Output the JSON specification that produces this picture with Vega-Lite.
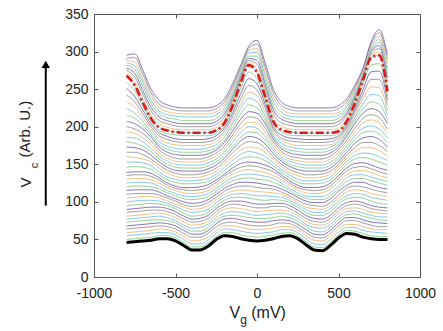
{
"$schema":"https://vega.github.io/schema/vega-lite/v6.json",
"width":326,"height":263,
"autosize":{"type":"none"},
"padding":{"left":94,"top":14,"right":23,"bottom":54},
"background":"white",
"config":{"font":"Liberation Sans","view":{"stroke":null},
"axis":{"grid":false,"labelFont":"Liberation Sans","titleFont":"Liberation Sans","labelColor":"#222","titleColor":"#222","domainColor":"#555","tickColor":"#555","titleFontWeight":"normal"}},
"data":{"values":[
{"s":0,"x":-800,"y":46},{"s":0,"x":-750,"y":47},{"s":0,"x":-700,"y":48},{"s":0,"x":-650,"y":49},{"s":0,"x":-600,"y":51},{"s":0,"x":-550,"y":51},{"s":0,"x":-500,"y":48},{"s":0,"x":-450,"y":42},{"s":0,"x":-400,"y":36},{"s":0,"x":-350,"y":36},{"s":0,"x":-300,"y":41},{"s":0,"x":-250,"y":50},{"s":0,"x":-200,"y":55},{"s":0,"x":-150,"y":54},{"s":0,"x":-100,"y":51},{"s":0,"x":-50,"y":49},{"s":0,"x":0,"y":48},{"s":0,"x":50,"y":49},{"s":0,"x":100,"y":51},{"s":0,"x":150,"y":54},{"s":0,"x":200,"y":55},{"s":0,"x":250,"y":51},{"s":0,"x":300,"y":43},{"s":0,"x":350,"y":36},{"s":0,"x":400,"y":35},{"s":0,"x":450,"y":42},{"s":0,"x":500,"y":52},{"s":0,"x":550,"y":58},{"s":0,"x":600,"y":57},{"s":0,"x":650,"y":53},{"s":0,"x":700,"y":51},{"s":0,"x":750,"y":50},{"s":0,"x":800,"y":50},
{"s":1,"x":-800,"y":50},{"s":1,"x":-750,"y":51},{"s":1,"x":-700,"y":52},{"s":1,"x":-650,"y":53},{"s":1,"x":-600,"y":55},{"s":1,"x":-550,"y":55},{"s":1,"x":-500,"y":52},{"s":1,"x":-450,"y":46},{"s":1,"x":-400,"y":40},{"s":1,"x":-350,"y":40},{"s":1,"x":-300,"y":45},{"s":1,"x":-250,"y":54},{"s":1,"x":-200,"y":59},{"s":1,"x":-150,"y":59},{"s":1,"x":-100,"y":56},{"s":1,"x":-50,"y":54},{"s":1,"x":0,"y":53},{"s":1,"x":50,"y":54},{"s":1,"x":100,"y":56},{"s":1,"x":150,"y":58},{"s":1,"x":200,"y":59},{"s":1,"x":250,"y":55},{"s":1,"x":300,"y":47},{"s":1,"x":350,"y":40},{"s":1,"x":400,"y":39},{"s":1,"x":450,"y":46},{"s":1,"x":500,"y":56},{"s":1,"x":550,"y":62},{"s":1,"x":600,"y":61},{"s":1,"x":650,"y":58},{"s":1,"x":700,"y":55},{"s":1,"x":750,"y":54},{"s":1,"x":800,"y":54},
{"s":2,"x":-800,"y":55},{"s":2,"x":-750,"y":56},{"s":2,"x":-700,"y":57},{"s":2,"x":-650,"y":58},{"s":2,"x":-600,"y":59},{"s":2,"x":-550,"y":59},{"s":2,"x":-500,"y":56},{"s":2,"x":-450,"y":50},{"s":2,"x":-400,"y":44},{"s":2,"x":-350,"y":44},{"s":2,"x":-300,"y":49},{"s":2,"x":-250,"y":58},{"s":2,"x":-200,"y":64},{"s":2,"x":-150,"y":63},{"s":2,"x":-100,"y":61},{"s":2,"x":-50,"y":59},{"s":2,"x":0,"y":58},{"s":2,"x":50,"y":59},{"s":2,"x":100,"y":60},{"s":2,"x":150,"y":63},{"s":2,"x":200,"y":63},{"s":2,"x":250,"y":59},{"s":2,"x":300,"y":51},{"s":2,"x":350,"y":44},{"s":2,"x":400,"y":43},{"s":2,"x":450,"y":50},{"s":2,"x":500,"y":60},{"s":2,"x":550,"y":66},{"s":2,"x":600,"y":66},{"s":2,"x":650,"y":62},{"s":2,"x":700,"y":60},{"s":2,"x":750,"y":59},{"s":2,"x":800,"y":58},
{"s":3,"x":-800,"y":59},{"s":3,"x":-750,"y":60},{"s":3,"x":-700,"y":61},{"s":3,"x":-650,"y":62},{"s":3,"x":-600,"y":64},{"s":3,"x":-550,"y":63},{"s":3,"x":-500,"y":60},{"s":3,"x":-450,"y":54},{"s":3,"x":-400,"y":48},{"s":3,"x":-350,"y":49},{"s":3,"x":-300,"y":53},{"s":3,"x":-250,"y":62},{"s":3,"x":-200,"y":68},{"s":3,"x":-150,"y":68},{"s":3,"x":-100,"y":66},{"s":3,"x":-50,"y":64},{"s":3,"x":0,"y":63},{"s":3,"x":50,"y":64},{"s":3,"x":100,"y":65},{"s":3,"x":150,"y":67},{"s":3,"x":200,"y":67},{"s":3,"x":250,"y":63},{"s":3,"x":300,"y":55},{"s":3,"x":350,"y":49},{"s":3,"x":400,"y":48},{"s":3,"x":450,"y":54},{"s":3,"x":500,"y":64},{"s":3,"x":550,"y":70},{"s":3,"x":600,"y":70},{"s":3,"x":650,"y":67},{"s":3,"x":700,"y":64},{"s":3,"x":750,"y":63},{"s":3,"x":800,"y":63},
{"s":4,"x":-800,"y":64},{"s":4,"x":-750,"y":65},{"s":4,"x":-700,"y":66},{"s":4,"x":-650,"y":67},{"s":4,"x":-600,"y":68},{"s":4,"x":-550,"y":67},{"s":4,"x":-500,"y":64},{"s":4,"x":-450,"y":58},{"s":4,"x":-400,"y":53},{"s":4,"x":-350,"y":53},{"s":4,"x":-300,"y":58},{"s":4,"x":-250,"y":67},{"s":4,"x":-200,"y":72},{"s":4,"x":-150,"y":73},{"s":4,"x":-100,"y":71},{"s":4,"x":-50,"y":69},{"s":4,"x":0,"y":68},{"s":4,"x":50,"y":68},{"s":4,"x":100,"y":70},{"s":4,"x":150,"y":72},{"s":4,"x":200,"y":71},{"s":4,"x":250,"y":66},{"s":4,"x":300,"y":59},{"s":4,"x":350,"y":53},{"s":4,"x":400,"y":52},{"s":4,"x":450,"y":58},{"s":4,"x":500,"y":68},{"s":4,"x":550,"y":75},{"s":4,"x":600,"y":75},{"s":4,"x":650,"y":72},{"s":4,"x":700,"y":69},{"s":4,"x":750,"y":67},{"s":4,"x":800,"y":67},
{"s":5,"x":-800,"y":68},{"s":5,"x":-750,"y":69},{"s":5,"x":-700,"y":70},{"s":5,"x":-650,"y":71},{"s":5,"x":-600,"y":72},{"s":5,"x":-550,"y":71},{"s":5,"x":-500,"y":68},{"s":5,"x":-450,"y":62},{"s":5,"x":-400,"y":57},{"s":5,"x":-350,"y":57},{"s":5,"x":-300,"y":62},{"s":5,"x":-250,"y":71},{"s":5,"x":-200,"y":77},{"s":5,"x":-150,"y":78},{"s":5,"x":-100,"y":76},{"s":5,"x":-50,"y":74},{"s":5,"x":0,"y":73},{"s":5,"x":50,"y":73},{"s":5,"x":100,"y":75},{"s":5,"x":150,"y":76},{"s":5,"x":200,"y":75},{"s":5,"x":250,"y":70},{"s":5,"x":300,"y":63},{"s":5,"x":350,"y":57},{"s":5,"x":400,"y":56},{"s":5,"x":450,"y":62},{"s":5,"x":500,"y":72},{"s":5,"x":550,"y":79},{"s":5,"x":600,"y":79},{"s":5,"x":650,"y":76},{"s":5,"x":700,"y":73},{"s":5,"x":750,"y":72},{"s":5,"x":800,"y":71},
{"s":6,"x":-800,"y":73},{"s":6,"x":-750,"y":74},{"s":6,"x":-700,"y":75},{"s":6,"x":-650,"y":76},{"s":6,"x":-600,"y":76},{"s":6,"x":-550,"y":75},{"s":6,"x":-500,"y":72},{"s":6,"x":-450,"y":66},{"s":6,"x":-400,"y":61},{"s":6,"x":-350,"y":61},{"s":6,"x":-300,"y":66},{"s":6,"x":-250,"y":75},{"s":6,"x":-200,"y":81},{"s":6,"x":-150,"y":82},{"s":6,"x":-100,"y":81},{"s":6,"x":-50,"y":79},{"s":6,"x":0,"y":78},{"s":6,"x":50,"y":78},{"s":6,"x":100,"y":79},{"s":6,"x":150,"y":81},{"s":6,"x":200,"y":79},{"s":6,"x":250,"y":74},{"s":6,"x":300,"y":67},{"s":6,"x":350,"y":61},{"s":6,"x":400,"y":60},{"s":6,"x":450,"y":66},{"s":6,"x":500,"y":76},{"s":6,"x":550,"y":83},{"s":6,"x":600,"y":84},{"s":6,"x":650,"y":81},{"s":6,"x":700,"y":78},{"s":6,"x":750,"y":76},{"s":6,"x":800,"y":75},
{"s":7,"x":-800,"y":77},{"s":7,"x":-750,"y":78},{"s":7,"x":-700,"y":79},{"s":7,"x":-650,"y":80},{"s":7,"x":-600,"y":81},{"s":7,"x":-550,"y":79},{"s":7,"x":-500,"y":75},{"s":7,"x":-450,"y":69},{"s":7,"x":-400,"y":65},{"s":7,"x":-350,"y":66},{"s":7,"x":-300,"y":70},{"s":7,"x":-250,"y":79},{"s":7,"x":-200,"y":85},{"s":7,"x":-150,"y":87},{"s":7,"x":-100,"y":86},{"s":7,"x":-50,"y":84},{"s":7,"x":0,"y":82},{"s":7,"x":50,"y":83},{"s":7,"x":100,"y":84},{"s":7,"x":150,"y":85},{"s":7,"x":200,"y":83},{"s":7,"x":250,"y":78},{"s":7,"x":300,"y":70},{"s":7,"x":350,"y":66},{"s":7,"x":400,"y":65},{"s":7,"x":450,"y":70},{"s":7,"x":500,"y":80},{"s":7,"x":550,"y":87},{"s":7,"x":600,"y":88},{"s":7,"x":650,"y":85},{"s":7,"x":700,"y":82},{"s":7,"x":750,"y":80},{"s":7,"x":800,"y":80},
{"s":8,"x":-800,"y":81},{"s":8,"x":-750,"y":82},{"s":8,"x":-700,"y":83},{"s":8,"x":-650,"y":84},{"s":8,"x":-600,"y":85},{"s":8,"x":-550,"y":83},{"s":8,"x":-500,"y":79},{"s":8,"x":-450,"y":73},{"s":8,"x":-400,"y":69},{"s":8,"x":-350,"y":70},{"s":8,"x":-300,"y":74},{"s":8,"x":-250,"y":83},{"s":8,"x":-200,"y":90},{"s":8,"x":-150,"y":92},{"s":8,"x":-100,"y":91},{"s":8,"x":-50,"y":89},{"s":8,"x":0,"y":87},{"s":8,"x":50,"y":88},{"s":8,"x":100,"y":89},{"s":8,"x":150,"y":89},{"s":8,"x":200,"y":87},{"s":8,"x":250,"y":82},{"s":8,"x":300,"y":74},{"s":8,"x":350,"y":70},{"s":8,"x":400,"y":69},{"s":8,"x":450,"y":74},{"s":8,"x":500,"y":84},{"s":8,"x":550,"y":91},{"s":8,"x":600,"y":92},{"s":8,"x":650,"y":90},{"s":8,"x":700,"y":86},{"s":8,"x":750,"y":85},{"s":8,"x":800,"y":84},
{"s":9,"x":-800,"y":86},{"s":9,"x":-750,"y":87},{"s":9,"x":-700,"y":88},{"s":9,"x":-650,"y":89},{"s":9,"x":-600,"y":89},{"s":9,"x":-550,"y":87},{"s":9,"x":-500,"y":83},{"s":9,"x":-450,"y":77},{"s":9,"x":-400,"y":73},{"s":9,"x":-350,"y":74},{"s":9,"x":-300,"y":78},{"s":9,"x":-250,"y":87},{"s":9,"x":-200,"y":94},{"s":9,"x":-150,"y":97},{"s":9,"x":-100,"y":96},{"s":9,"x":-50,"y":94},{"s":9,"x":0,"y":92},{"s":9,"x":50,"y":92},{"s":9,"x":100,"y":94},{"s":9,"x":150,"y":94},{"s":9,"x":200,"y":91},{"s":9,"x":250,"y":85},{"s":9,"x":300,"y":78},{"s":9,"x":350,"y":74},{"s":9,"x":400,"y":73},{"s":9,"x":450,"y":78},{"s":9,"x":500,"y":88},{"s":9,"x":550,"y":95},{"s":9,"x":600,"y":97},{"s":9,"x":650,"y":95},{"s":9,"x":700,"y":91},{"s":9,"x":750,"y":89},{"s":9,"x":800,"y":88},
{"s":10,"x":-800,"y":90},{"s":10,"x":-750,"y":91},{"s":10,"x":-700,"y":92},{"s":10,"x":-650,"y":93},{"s":10,"x":-600,"y":93},{"s":10,"x":-550,"y":91},{"s":10,"x":-500,"y":87},{"s":10,"x":-450,"y":81},{"s":10,"x":-400,"y":77},{"s":10,"x":-350,"y":78},{"s":10,"x":-300,"y":82},{"s":10,"x":-250,"y":91},{"s":10,"x":-200,"y":98},{"s":10,"x":-150,"y":101},{"s":10,"x":-100,"y":101},{"s":10,"x":-50,"y":99},{"s":10,"x":0,"y":97},{"s":10,"x":50,"y":97},{"s":10,"x":100,"y":98},{"s":10,"x":150,"y":98},{"s":10,"x":200,"y":95},{"s":10,"x":250,"y":89},{"s":10,"x":300,"y":82},{"s":10,"x":350,"y":78},{"s":10,"x":400,"y":77},{"s":10,"x":450,"y":82},{"s":10,"x":500,"y":92},{"s":10,"x":550,"y":99},{"s":10,"x":600,"y":101},{"s":10,"x":650,"y":99},{"s":10,"x":700,"y":95},{"s":10,"x":750,"y":93},{"s":10,"x":800,"y":92},
{"s":11,"x":-800,"y":95},{"s":11,"x":-750,"y":96},{"s":11,"x":-700,"y":97},{"s":11,"x":-650,"y":98},{"s":11,"x":-600,"y":97},{"s":11,"x":-550,"y":95},{"s":11,"x":-500,"y":91},{"s":11,"x":-450,"y":85},{"s":11,"x":-400,"y":81},{"s":11,"x":-350,"y":82},{"s":11,"x":-300,"y":86},{"s":11,"x":-250,"y":95},{"s":11,"x":-200,"y":102},{"s":11,"x":-150,"y":106},{"s":11,"x":-100,"y":106},{"s":11,"x":-50,"y":105},{"s":11,"x":0,"y":103},{"s":11,"x":50,"y":102},{"s":11,"x":100,"y":103},{"s":11,"x":150,"y":102},{"s":11,"x":200,"y":99},{"s":11,"x":250,"y":93},{"s":11,"x":300,"y":86},{"s":11,"x":350,"y":82},{"s":11,"x":400,"y":82},{"s":11,"x":450,"y":87},{"s":11,"x":500,"y":97},{"s":11,"x":550,"y":104},{"s":11,"x":600,"y":106},{"s":11,"x":650,"y":105},{"s":11,"x":700,"y":101},{"s":11,"x":750,"y":98},{"s":11,"x":800,"y":97},
{"s":12,"x":-800,"y":100},{"s":12,"x":-750,"y":101},{"s":12,"x":-700,"y":102},{"s":12,"x":-650,"y":102},{"s":12,"x":-600,"y":101},{"s":12,"x":-550,"y":98},{"s":12,"x":-500,"y":94},{"s":12,"x":-450,"y":89},{"s":12,"x":-400,"y":86},{"s":12,"x":-350,"y":87},{"s":12,"x":-300,"y":90},{"s":12,"x":-250,"y":99},{"s":12,"x":-200,"y":106},{"s":12,"x":-150,"y":110},{"s":12,"x":-100,"y":111},{"s":12,"x":-50,"y":110},{"s":12,"x":0,"y":108},{"s":12,"x":50,"y":108},{"s":12,"x":100,"y":107},{"s":12,"x":150,"y":106},{"s":12,"x":200,"y":102},{"s":12,"x":250,"y":96},{"s":12,"x":300,"y":90},{"s":12,"x":350,"y":86},{"s":12,"x":400,"y":86},{"s":12,"x":450,"y":91},{"s":12,"x":500,"y":101},{"s":12,"x":550,"y":108},{"s":12,"x":600,"y":111},{"s":12,"x":650,"y":110},{"s":12,"x":700,"y":106},{"s":12,"x":750,"y":104},{"s":12,"x":800,"y":102},
{"s":13,"x":-800,"y":105},{"s":13,"x":-750,"y":106},{"s":13,"x":-700,"y":107},{"s":13,"x":-650,"y":107},{"s":13,"x":-600,"y":105},{"s":13,"x":-550,"y":101},{"s":13,"x":-500,"y":97},{"s":13,"x":-450,"y":93},{"s":13,"x":-400,"y":90},{"s":13,"x":-350,"y":91},{"s":13,"x":-300,"y":95},{"s":13,"x":-250,"y":103},{"s":13,"x":-200,"y":110},{"s":13,"x":-150,"y":114},{"s":13,"x":-100,"y":116},{"s":13,"x":-50,"y":115},{"s":13,"x":0,"y":114},{"s":13,"x":50,"y":113},{"s":13,"x":100,"y":112},{"s":13,"x":150,"y":110},{"s":13,"x":200,"y":105},{"s":13,"x":250,"y":99},{"s":13,"x":300,"y":93},{"s":13,"x":350,"y":91},{"s":13,"x":400,"y":90},{"s":13,"x":450,"y":95},{"s":13,"x":500,"y":105},{"s":13,"x":550,"y":113},{"s":13,"x":600,"y":116},{"s":13,"x":650,"y":115},{"s":13,"x":700,"y":111},{"s":13,"x":750,"y":109},{"s":13,"x":800,"y":107},
{"s":14,"x":-800,"y":110},{"s":14,"x":-750,"y":111},{"s":14,"x":-700,"y":111},{"s":14,"x":-650,"y":111},{"s":14,"x":-600,"y":109},{"s":14,"x":-550,"y":105},{"s":14,"x":-500,"y":101},{"s":14,"x":-450,"y":96},{"s":14,"x":-400,"y":94},{"s":14,"x":-350,"y":95},{"s":14,"x":-300,"y":99},{"s":14,"x":-250,"y":106},{"s":14,"x":-200,"y":114},{"s":14,"x":-150,"y":119},{"s":14,"x":-100,"y":121},{"s":14,"x":-50,"y":121},{"s":14,"x":0,"y":119},{"s":14,"x":50,"y":118},{"s":14,"x":100,"y":117},{"s":14,"x":150,"y":113},{"s":14,"x":200,"y":108},{"s":14,"x":250,"y":102},{"s":14,"x":300,"y":97},{"s":14,"x":350,"y":95},{"s":14,"x":400,"y":94},{"s":14,"x":450,"y":99},{"s":14,"x":500,"y":109},{"s":14,"x":550,"y":118},{"s":14,"x":600,"y":121},{"s":14,"x":650,"y":120},{"s":14,"x":700,"y":117},{"s":14,"x":750,"y":114},{"s":14,"x":800,"y":112},
{"s":15,"x":-800,"y":115},{"s":15,"x":-750,"y":116},{"s":15,"x":-700,"y":116},{"s":15,"x":-650,"y":116},{"s":15,"x":-600,"y":113},{"s":15,"x":-550,"y":108},{"s":15,"x":-500,"y":104},{"s":15,"x":-450,"y":100},{"s":15,"x":-400,"y":98},{"s":15,"x":-350,"y":99},{"s":15,"x":-300,"y":103},{"s":15,"x":-250,"y":110},{"s":15,"x":-200,"y":118},{"s":15,"x":-150,"y":123},{"s":15,"x":-100,"y":126},{"s":15,"x":-50,"y":126},{"s":15,"x":0,"y":125},{"s":15,"x":50,"y":123},{"s":15,"x":100,"y":121},{"s":15,"x":150,"y":117},{"s":15,"x":200,"y":112},{"s":15,"x":250,"y":106},{"s":15,"x":300,"y":101},{"s":15,"x":350,"y":99},{"s":15,"x":400,"y":99},{"s":15,"x":450,"y":104},{"s":15,"x":500,"y":114},{"s":15,"x":550,"y":122},{"s":15,"x":600,"y":126},{"s":15,"x":650,"y":126},{"s":15,"x":700,"y":122},{"s":15,"x":750,"y":119},{"s":15,"x":800,"y":117},
{"s":16,"x":-800,"y":120},{"s":16,"x":-750,"y":121},{"s":16,"x":-700,"y":121},{"s":16,"x":-650,"y":120},{"s":16,"x":-600,"y":117},{"s":16,"x":-550,"y":112},{"s":16,"x":-500,"y":108},{"s":16,"x":-450,"y":104},{"s":16,"x":-400,"y":103},{"s":16,"x":-350,"y":104},{"s":16,"x":-300,"y":107},{"s":16,"x":-250,"y":114},{"s":16,"x":-200,"y":122},{"s":16,"x":-150,"y":128},{"s":16,"x":-100,"y":131},{"s":16,"x":-50,"y":132},{"s":16,"x":0,"y":130},{"s":16,"x":50,"y":129},{"s":16,"x":100,"y":126},{"s":16,"x":150,"y":121},{"s":16,"x":200,"y":115},{"s":16,"x":250,"y":109},{"s":16,"x":300,"y":105},{"s":16,"x":350,"y":103},{"s":16,"x":400,"y":103},{"s":16,"x":450,"y":108},{"s":16,"x":500,"y":118},{"s":16,"x":550,"y":127},{"s":16,"x":600,"y":131},{"s":16,"x":650,"y":131},{"s":16,"x":700,"y":128},{"s":16,"x":750,"y":125},{"s":16,"x":800,"y":122},
{"s":17,"x":-800,"y":125},{"s":17,"x":-750,"y":126},{"s":17,"x":-700,"y":126},{"s":17,"x":-650,"y":125},{"s":17,"x":-600,"y":121},{"s":17,"x":-550,"y":115},{"s":17,"x":-500,"y":111},{"s":17,"x":-450,"y":108},{"s":17,"x":-400,"y":107},{"s":17,"x":-350,"y":108},{"s":17,"x":-300,"y":111},{"s":17,"x":-250,"y":118},{"s":17,"x":-200,"y":126},{"s":17,"x":-150,"y":132},{"s":17,"x":-100,"y":136},{"s":17,"x":-50,"y":137},{"s":17,"x":0,"y":136},{"s":17,"x":50,"y":134},{"s":17,"x":100,"y":131},{"s":17,"x":150,"y":125},{"s":17,"x":200,"y":118},{"s":17,"x":250,"y":112},{"s":17,"x":300,"y":108},{"s":17,"x":350,"y":107},{"s":17,"x":400,"y":107},{"s":17,"x":450,"y":112},{"s":17,"x":500,"y":122},{"s":17,"x":550,"y":132},{"s":17,"x":600,"y":136},{"s":17,"x":650,"y":136},{"s":17,"x":700,"y":133},{"s":17,"x":750,"y":130},{"s":17,"x":800,"y":127},
{"s":18,"x":-800,"y":130},{"s":18,"x":-750,"y":131},{"s":18,"x":-700,"y":131},{"s":18,"x":-650,"y":129},{"s":18,"x":-600,"y":125},{"s":18,"x":-550,"y":119},{"s":18,"x":-500,"y":115},{"s":18,"x":-450,"y":112},{"s":18,"x":-400,"y":111},{"s":18,"x":-350,"y":112},{"s":18,"x":-300,"y":115},{"s":18,"x":-250,"y":122},{"s":18,"x":-200,"y":130},{"s":18,"x":-150,"y":137},{"s":18,"x":-100,"y":141},{"s":18,"x":-50,"y":143},{"s":18,"x":0,"y":141},{"s":18,"x":50,"y":139},{"s":18,"x":100,"y":135},{"s":18,"x":150,"y":129},{"s":18,"x":200,"y":122},{"s":18,"x":250,"y":116},{"s":18,"x":300,"y":112},{"s":18,"x":350,"y":111},{"s":18,"x":400,"y":112},{"s":18,"x":450,"y":117},{"s":18,"x":500,"y":127},{"s":18,"x":550,"y":136},{"s":18,"x":600,"y":141},{"s":18,"x":650,"y":142},{"s":18,"x":700,"y":139},{"s":18,"x":750,"y":135},{"s":18,"x":800,"y":132},
{"s":19,"x":-800,"y":135},{"s":19,"x":-750,"y":136},{"s":19,"x":-700,"y":136},{"s":19,"x":-650,"y":134},{"s":19,"x":-600,"y":129},{"s":19,"x":-550,"y":122},{"s":19,"x":-500,"y":118},{"s":19,"x":-450,"y":116},{"s":19,"x":-400,"y":115},{"s":19,"x":-350,"y":116},{"s":19,"x":-300,"y":119},{"s":19,"x":-250,"y":126},{"s":19,"x":-200,"y":134},{"s":19,"x":-150,"y":141},{"s":19,"x":-100,"y":146},{"s":19,"x":-50,"y":148},{"s":19,"x":0,"y":147},{"s":19,"x":50,"y":144},{"s":19,"x":100,"y":140},{"s":19,"x":150,"y":133},{"s":19,"x":200,"y":125},{"s":19,"x":250,"y":119},{"s":19,"x":300,"y":116},{"s":19,"x":350,"y":115},{"s":19,"x":400,"y":116},{"s":19,"x":450,"y":121},{"s":19,"x":500,"y":131},{"s":19,"x":550,"y":141},{"s":19,"x":600,"y":146},{"s":19,"x":650,"y":147},{"s":19,"x":700,"y":144},{"s":19,"x":750,"y":140},{"s":19,"x":800,"y":137},
{"s":20,"x":-800,"y":139},{"s":20,"x":-750,"y":140},{"s":20,"x":-700,"y":140},{"s":20,"x":-650,"y":138},{"s":20,"x":-600,"y":132},{"s":20,"x":-550,"y":125},{"s":20,"x":-500,"y":121},{"s":20,"x":-450,"y":119},{"s":20,"x":-400,"y":119},{"s":20,"x":-350,"y":120},{"s":20,"x":-300,"y":123},{"s":20,"x":-250,"y":129},{"s":20,"x":-200,"y":137},{"s":20,"x":-150,"y":145},{"s":20,"x":-100,"y":151},{"s":20,"x":-50,"y":153},{"s":20,"x":0,"y":152},{"s":20,"x":50,"y":149},{"s":20,"x":100,"y":144},{"s":20,"x":150,"y":136},{"s":20,"x":200,"y":128},{"s":20,"x":250,"y":122},{"s":20,"x":300,"y":119},{"s":20,"x":350,"y":119},{"s":20,"x":400,"y":120},{"s":20,"x":450,"y":125},{"s":20,"x":500,"y":135},{"s":20,"x":550,"y":145},{"s":20,"x":600,"y":151},{"s":20,"x":650,"y":152},{"s":20,"x":700,"y":149},{"s":20,"x":750,"y":145},{"s":20,"x":800,"y":142},
{"s":21,"x":-800,"y":146},{"s":21,"x":-750,"y":147},{"s":21,"x":-700,"y":146},{"s":21,"x":-650,"y":143},{"s":21,"x":-600,"y":136},{"s":21,"x":-550,"y":129},{"s":21,"x":-500,"y":126},{"s":21,"x":-450,"y":124},{"s":21,"x":-400,"y":124},{"s":21,"x":-350,"y":125},{"s":21,"x":-300,"y":127},{"s":21,"x":-250,"y":133},{"s":21,"x":-200,"y":142},{"s":21,"x":-150,"y":150},{"s":21,"x":-100,"y":157},{"s":21,"x":-50,"y":160},{"s":21,"x":0,"y":159},{"s":21,"x":50,"y":155},{"s":21,"x":100,"y":148},{"s":21,"x":150,"y":140},{"s":21,"x":200,"y":132},{"s":21,"x":250,"y":126},{"s":21,"x":300,"y":124},{"s":21,"x":350,"y":124},{"s":21,"x":400,"y":125},{"s":21,"x":450,"y":129},{"s":21,"x":500,"y":139},{"s":21,"x":550,"y":150},{"s":21,"x":600,"y":157},{"s":21,"x":650,"y":159},{"s":21,"x":700,"y":157},{"s":21,"x":750,"y":153},{"s":21,"x":800,"y":149},
{"s":22,"x":-800,"y":153},{"s":22,"x":-750,"y":153},{"s":22,"x":-700,"y":152},{"s":22,"x":-650,"y":148},{"s":22,"x":-600,"y":140},{"s":22,"x":-550,"y":133},{"s":22,"x":-500,"y":130},{"s":22,"x":-450,"y":128},{"s":22,"x":-400,"y":128},{"s":22,"x":-350,"y":129},{"s":22,"x":-300,"y":131},{"s":22,"x":-250,"y":137},{"s":22,"x":-200,"y":146},{"s":22,"x":-150,"y":155},{"s":22,"x":-100,"y":163},{"s":22,"x":-50,"y":167},{"s":22,"x":0,"y":165},{"s":22,"x":50,"y":160},{"s":22,"x":100,"y":152},{"s":22,"x":150,"y":143},{"s":22,"x":200,"y":136},{"s":22,"x":250,"y":130},{"s":22,"x":300,"y":128},{"s":22,"x":350,"y":128},{"s":22,"x":400,"y":129},{"s":22,"x":450,"y":133},{"s":22,"x":500,"y":143},{"s":22,"x":550,"y":154},{"s":22,"x":600,"y":162},{"s":22,"x":650,"y":165},{"s":22,"x":700,"y":164},{"s":22,"x":750,"y":160},{"s":22,"x":800,"y":155},
{"s":23,"x":-800,"y":160},{"s":23,"x":-750,"y":159},{"s":23,"x":-700,"y":157},{"s":23,"x":-650,"y":153},{"s":23,"x":-600,"y":145},{"s":23,"x":-550,"y":138},{"s":23,"x":-500,"y":134},{"s":23,"x":-450,"y":132},{"s":23,"x":-400,"y":132},{"s":23,"x":-350,"y":133},{"s":23,"x":-300,"y":136},{"s":23,"x":-250,"y":141},{"s":23,"x":-200,"y":150},{"s":23,"x":-150,"y":160},{"s":23,"x":-100,"y":169},{"s":23,"x":-50,"y":173},{"s":23,"x":0,"y":172},{"s":23,"x":50,"y":166},{"s":23,"x":100,"y":156},{"s":23,"x":150,"y":147},{"s":23,"x":200,"y":139},{"s":23,"x":250,"y":135},{"s":23,"x":300,"y":132},{"s":23,"x":350,"y":132},{"s":23,"x":400,"y":133},{"s":23,"x":450,"y":137},{"s":23,"x":500,"y":147},{"s":23,"x":550,"y":158},{"s":23,"x":600,"y":167},{"s":23,"x":650,"y":172},{"s":23,"x":700,"y":172},{"s":23,"x":750,"y":168},{"s":23,"x":800,"y":161},
{"s":24,"x":-800,"y":166},{"s":24,"x":-750,"y":166},{"s":24,"x":-700,"y":163},{"s":24,"x":-650,"y":157},{"s":24,"x":-600,"y":149},{"s":24,"x":-550,"y":142},{"s":24,"x":-500,"y":138},{"s":24,"x":-450,"y":136},{"s":24,"x":-400,"y":136},{"s":24,"x":-350,"y":137},{"s":24,"x":-300,"y":140},{"s":24,"x":-250,"y":145},{"s":24,"x":-200,"y":154},{"s":24,"x":-150,"y":165},{"s":24,"x":-100,"y":175},{"s":24,"x":-50,"y":180},{"s":24,"x":0,"y":179},{"s":24,"x":50,"y":171},{"s":24,"x":100,"y":160},{"s":24,"x":150,"y":150},{"s":24,"x":200,"y":143},{"s":24,"x":250,"y":139},{"s":24,"x":300,"y":136},{"s":24,"x":350,"y":136},{"s":24,"x":400,"y":137},{"s":24,"x":450,"y":141},{"s":24,"x":500,"y":150},{"s":24,"x":550,"y":162},{"s":24,"x":600,"y":172},{"s":24,"x":650,"y":179},{"s":24,"x":700,"y":179},{"s":24,"x":750,"y":175},{"s":24,"x":800,"y":167},
{"s":25,"x":-800,"y":173},{"s":25,"x":-750,"y":172},{"s":25,"x":-700,"y":169},{"s":25,"x":-650,"y":162},{"s":25,"x":-600,"y":153},{"s":25,"x":-550,"y":146},{"s":25,"x":-500,"y":142},{"s":25,"x":-450,"y":141},{"s":25,"x":-400,"y":141},{"s":25,"x":-350,"y":141},{"s":25,"x":-300,"y":144},{"s":25,"x":-250,"y":149},{"s":25,"x":-200,"y":158},{"s":25,"x":-150,"y":170},{"s":25,"x":-100,"y":181},{"s":25,"x":-50,"y":187},{"s":25,"x":0,"y":185},{"s":25,"x":50,"y":177},{"s":25,"x":100,"y":164},{"s":25,"x":150,"y":154},{"s":25,"x":200,"y":147},{"s":25,"x":250,"y":143},{"s":25,"x":300,"y":141},{"s":25,"x":350,"y":141},{"s":25,"x":400,"y":141},{"s":25,"x":450,"y":145},{"s":25,"x":500,"y":154},{"s":25,"x":550,"y":166},{"s":25,"x":600,"y":178},{"s":25,"x":650,"y":185},{"s":25,"x":700,"y":187},{"s":25,"x":750,"y":183},{"s":25,"x":800,"y":173},
{"s":26,"x":-800,"y":180},{"s":26,"x":-750,"y":178},{"s":26,"x":-700,"y":174},{"s":26,"x":-650,"y":167},{"s":26,"x":-600,"y":157},{"s":26,"x":-550,"y":150},{"s":26,"x":-500,"y":146},{"s":26,"x":-450,"y":145},{"s":26,"x":-400,"y":145},{"s":26,"x":-350,"y":145},{"s":26,"x":-300,"y":148},{"s":26,"x":-250,"y":153},{"s":26,"x":-200,"y":162},{"s":26,"x":-150,"y":174},{"s":26,"x":-100,"y":186},{"s":26,"x":-50,"y":193},{"s":26,"x":0,"y":192},{"s":26,"x":50,"y":182},{"s":26,"x":100,"y":168},{"s":26,"x":150,"y":157},{"s":26,"x":200,"y":150},{"s":26,"x":250,"y":147},{"s":26,"x":300,"y":145},{"s":26,"x":350,"y":145},{"s":26,"x":400,"y":145},{"s":26,"x":450,"y":149},{"s":26,"x":500,"y":158},{"s":26,"x":550,"y":170},{"s":26,"x":600,"y":183},{"s":26,"x":650,"y":192},{"s":26,"x":700,"y":194},{"s":26,"x":750,"y":190},{"s":26,"x":800,"y":179},
{"s":27,"x":-800,"y":186},{"s":27,"x":-750,"y":185},{"s":27,"x":-700,"y":180},{"s":27,"x":-650,"y":171},{"s":27,"x":-600,"y":161},{"s":27,"x":-550,"y":154},{"s":27,"x":-500,"y":150},{"s":27,"x":-450,"y":149},{"s":27,"x":-400,"y":149},{"s":27,"x":-350,"y":149},{"s":27,"x":-300,"y":152},{"s":27,"x":-250,"y":157},{"s":27,"x":-200,"y":166},{"s":27,"x":-150,"y":179},{"s":27,"x":-100,"y":192},{"s":27,"x":-50,"y":200},{"s":27,"x":0,"y":198},{"s":27,"x":50,"y":187},{"s":27,"x":100,"y":172},{"s":27,"x":150,"y":160},{"s":27,"x":200,"y":154},{"s":27,"x":250,"y":151},{"s":27,"x":300,"y":149},{"s":27,"x":350,"y":149},{"s":27,"x":400,"y":149},{"s":27,"x":450,"y":153},{"s":27,"x":500,"y":161},{"s":27,"x":550,"y":174},{"s":27,"x":600,"y":188},{"s":27,"x":650,"y":198},{"s":27,"x":700,"y":201},{"s":27,"x":750,"y":197},{"s":27,"x":800,"y":185},
{"s":28,"x":-800,"y":193},{"s":28,"x":-750,"y":191},{"s":28,"x":-700,"y":185},{"s":28,"x":-650,"y":176},{"s":28,"x":-600,"y":165},{"s":28,"x":-550,"y":158},{"s":28,"x":-500,"y":154},{"s":28,"x":-450,"y":153},{"s":28,"x":-400,"y":153},{"s":28,"x":-350,"y":153},{"s":28,"x":-300,"y":156},{"s":28,"x":-250,"y":161},{"s":28,"x":-200,"y":170},{"s":28,"x":-150,"y":184},{"s":28,"x":-100,"y":198},{"s":28,"x":-50,"y":206},{"s":28,"x":0,"y":205},{"s":28,"x":50,"y":193},{"s":28,"x":100,"y":176},{"s":28,"x":150,"y":164},{"s":28,"x":200,"y":157},{"s":28,"x":250,"y":155},{"s":28,"x":300,"y":153},{"s":28,"x":350,"y":153},{"s":28,"x":400,"y":153},{"s":28,"x":450,"y":157},{"s":28,"x":500,"y":165},{"s":28,"x":550,"y":178},{"s":28,"x":600,"y":193},{"s":28,"x":650,"y":205},{"s":28,"x":700,"y":209},{"s":28,"x":750,"y":205},{"s":28,"x":800,"y":191},
{"s":29,"x":-800,"y":200},{"s":29,"x":-750,"y":197},{"s":29,"x":-700,"y":191},{"s":29,"x":-650,"y":181},{"s":29,"x":-600,"y":169},{"s":29,"x":-550,"y":162},{"s":29,"x":-500,"y":158},{"s":29,"x":-450,"y":157},{"s":29,"x":-400,"y":157},{"s":29,"x":-350,"y":157},{"s":29,"x":-300,"y":160},{"s":29,"x":-250,"y":165},{"s":29,"x":-200,"y":174},{"s":29,"x":-150,"y":189},{"s":29,"x":-100,"y":204},{"s":29,"x":-50,"y":213},{"s":29,"x":0,"y":211},{"s":29,"x":50,"y":198},{"s":29,"x":100,"y":180},{"s":29,"x":150,"y":167},{"s":29,"x":200,"y":161},{"s":29,"x":250,"y":159},{"s":29,"x":300,"y":157},{"s":29,"x":350,"y":157},{"s":29,"x":400,"y":157},{"s":29,"x":450,"y":161},{"s":29,"x":500,"y":169},{"s":29,"x":550,"y":182},{"s":29,"x":600,"y":198},{"s":29,"x":650,"y":211},{"s":29,"x":700,"y":216},{"s":29,"x":750,"y":212},{"s":29,"x":800,"y":197},
{"s":30,"x":-800,"y":207},{"s":30,"x":-750,"y":204},{"s":30,"x":-700,"y":197},{"s":30,"x":-650,"y":186},{"s":30,"x":-600,"y":173},{"s":30,"x":-550,"y":166},{"s":30,"x":-500,"y":163},{"s":30,"x":-450,"y":162},{"s":30,"x":-400,"y":162},{"s":30,"x":-350,"y":162},{"s":30,"x":-300,"y":164},{"s":30,"x":-250,"y":169},{"s":30,"x":-200,"y":179},{"s":30,"x":-150,"y":194},{"s":30,"x":-100,"y":210},{"s":30,"x":-50,"y":220},{"s":30,"x":0,"y":218},{"s":30,"x":50,"y":204},{"s":30,"x":100,"y":184},{"s":30,"x":150,"y":171},{"s":30,"x":200,"y":165},{"s":30,"x":250,"y":163},{"s":30,"x":300,"y":162},{"s":30,"x":350,"y":162},{"s":30,"x":400,"y":162},{"s":30,"x":450,"y":165},{"s":30,"x":500,"y":173},{"s":30,"x":550,"y":187},{"s":30,"x":600,"y":204},{"s":30,"x":650,"y":218},{"s":30,"x":700,"y":224},{"s":30,"x":750,"y":220},{"s":30,"x":800,"y":204},
{"s":31,"x":-800,"y":215},{"s":31,"x":-750,"y":211},{"s":31,"x":-700,"y":202},{"s":31,"x":-650,"y":189},{"s":31,"x":-600,"y":176},{"s":31,"x":-550,"y":170},{"s":31,"x":-500,"y":167},{"s":31,"x":-450,"y":166},{"s":31,"x":-400,"y":166},{"s":31,"x":-350,"y":166},{"s":31,"x":-300,"y":168},{"s":31,"x":-250,"y":172},{"s":31,"x":-200,"y":182},{"s":31,"x":-150,"y":199},{"s":31,"x":-100,"y":217},{"s":31,"x":-50,"y":229},{"s":31,"x":0,"y":225},{"s":31,"x":50,"y":209},{"s":31,"x":100,"y":187},{"s":31,"x":150,"y":174},{"s":31,"x":200,"y":169},{"s":31,"x":250,"y":167},{"s":31,"x":300,"y":166},{"s":31,"x":350,"y":166},{"s":31,"x":400,"y":166},{"s":31,"x":450,"y":169},{"s":31,"x":500,"y":176},{"s":31,"x":550,"y":190},{"s":31,"x":600,"y":208},{"s":31,"x":650,"y":224},{"s":31,"x":700,"y":233},{"s":31,"x":750,"y":230},{"s":31,"x":800,"y":210},
{"s":32,"x":-800,"y":224},{"s":32,"x":-750,"y":218},{"s":32,"x":-700,"y":207},{"s":32,"x":-650,"y":193},{"s":32,"x":-600,"y":180},{"s":32,"x":-550,"y":174},{"s":32,"x":-500,"y":171},{"s":32,"x":-450,"y":170},{"s":32,"x":-400,"y":170},{"s":32,"x":-350,"y":170},{"s":32,"x":-300,"y":172},{"s":32,"x":-250,"y":176},{"s":32,"x":-200,"y":186},{"s":32,"x":-150,"y":204},{"s":32,"x":-100,"y":224},{"s":32,"x":-50,"y":238},{"s":32,"x":0,"y":233},{"s":32,"x":50,"y":214},{"s":32,"x":100,"y":190},{"s":32,"x":150,"y":178},{"s":32,"x":200,"y":173},{"s":32,"x":250,"y":171},{"s":32,"x":300,"y":170},{"s":32,"x":350,"y":170},{"s":32,"x":400,"y":170},{"s":32,"x":450,"y":173},{"s":32,"x":500,"y":179},{"s":32,"x":550,"y":193},{"s":32,"x":600,"y":212},{"s":32,"x":650,"y":230},{"s":32,"x":700,"y":243},{"s":32,"x":750,"y":241},{"s":32,"x":800,"y":216},
{"s":33,"x":-800,"y":233},{"s":33,"x":-750,"y":226},{"s":33,"x":-700,"y":212},{"s":33,"x":-650,"y":197},{"s":33,"x":-600,"y":184},{"s":33,"x":-550,"y":178},{"s":33,"x":-500,"y":176},{"s":33,"x":-450,"y":175},{"s":33,"x":-400,"y":175},{"s":33,"x":-350,"y":175},{"s":33,"x":-300,"y":176},{"s":33,"x":-250,"y":180},{"s":33,"x":-200,"y":190},{"s":33,"x":-150,"y":208},{"s":33,"x":-100,"y":230},{"s":33,"x":-50,"y":246},{"s":33,"x":0,"y":241},{"s":33,"x":50,"y":219},{"s":33,"x":100,"y":194},{"s":33,"x":150,"y":182},{"s":33,"x":200,"y":177},{"s":33,"x":250,"y":175},{"s":33,"x":300,"y":175},{"s":33,"x":350,"y":175},{"s":33,"x":400,"y":175},{"s":33,"x":450,"y":176},{"s":33,"x":500,"y":182},{"s":33,"x":550,"y":195},{"s":33,"x":600,"y":215},{"s":33,"x":650,"y":237},{"s":33,"x":700,"y":253},{"s":33,"x":750,"y":252},{"s":33,"x":800,"y":222},
{"s":34,"x":-800,"y":242},{"s":34,"x":-750,"y":233},{"s":34,"x":-700,"y":217},{"s":34,"x":-650,"y":200},{"s":34,"x":-600,"y":188},{"s":34,"x":-550,"y":183},{"s":34,"x":-500,"y":180},{"s":34,"x":-450,"y":179},{"s":34,"x":-400,"y":179},{"s":34,"x":-350,"y":179},{"s":34,"x":-300,"y":180},{"s":34,"x":-250,"y":184},{"s":34,"x":-200,"y":194},{"s":34,"x":-150,"y":213},{"s":34,"x":-100,"y":237},{"s":34,"x":-50,"y":255},{"s":34,"x":0,"y":249},{"s":34,"x":50,"y":225},{"s":34,"x":100,"y":197},{"s":34,"x":150,"y":185},{"s":34,"x":200,"y":181},{"s":34,"x":250,"y":180},{"s":34,"x":300,"y":179},{"s":34,"x":350,"y":179},{"s":34,"x":400,"y":179},{"s":34,"x":450,"y":180},{"s":34,"x":500,"y":185},{"s":34,"x":550,"y":198},{"s":34,"x":600,"y":219},{"s":34,"x":650,"y":243},{"s":34,"x":700,"y":263},{"s":34,"x":750,"y":263},{"s":34,"x":800,"y":229},
{"s":35,"x":-800,"y":251},{"s":35,"x":-750,"y":240},{"s":35,"x":-700,"y":222},{"s":35,"x":-650,"y":204},{"s":35,"x":-600,"y":192},{"s":35,"x":-550,"y":187},{"s":35,"x":-500,"y":184},{"s":35,"x":-450,"y":183},{"s":35,"x":-400,"y":183},{"s":35,"x":-350,"y":183},{"s":35,"x":-300,"y":184},{"s":35,"x":-250,"y":188},{"s":35,"x":-200,"y":198},{"s":35,"x":-150,"y":218},{"s":35,"x":-100,"y":244},{"s":35,"x":-50,"y":264},{"s":35,"x":0,"y":257},{"s":35,"x":50,"y":230},{"s":35,"x":100,"y":200},{"s":35,"x":150,"y":189},{"s":35,"x":200,"y":185},{"s":35,"x":250,"y":184},{"s":35,"x":300,"y":183},{"s":35,"x":350,"y":183},{"s":35,"x":400,"y":183},{"s":35,"x":450,"y":184},{"s":35,"x":500,"y":188},{"s":35,"x":550,"y":201},{"s":35,"x":600,"y":223},{"s":35,"x":650,"y":249},{"s":35,"x":700,"y":273},{"s":35,"x":750,"y":274},{"s":35,"x":800,"y":235},
{"s":36,"x":-800,"y":259},{"s":36,"x":-750,"y":248},{"s":36,"x":-700,"y":227},{"s":36,"x":-650,"y":208},{"s":36,"x":-600,"y":195},{"s":36,"x":-550,"y":191},{"s":36,"x":-500,"y":189},{"s":36,"x":-450,"y":188},{"s":36,"x":-400,"y":188},{"s":36,"x":-350,"y":188},{"s":36,"x":-300,"y":188},{"s":36,"x":-250,"y":191},{"s":36,"x":-200,"y":201},{"s":36,"x":-150,"y":223},{"s":36,"x":-100,"y":251},{"s":36,"x":-50,"y":273},{"s":36,"x":0,"y":264},{"s":36,"x":50,"y":235},{"s":36,"x":100,"y":204},{"s":36,"x":150,"y":193},{"s":36,"x":200,"y":189},{"s":36,"x":250,"y":188},{"s":36,"x":300,"y":188},{"s":36,"x":350,"y":188},{"s":36,"x":400,"y":188},{"s":36,"x":450,"y":188},{"s":36,"x":500,"y":191},{"s":36,"x":550,"y":204},{"s":36,"x":600,"y":227},{"s":36,"x":650,"y":256},{"s":36,"x":700,"y":282},{"s":36,"x":750,"y":284},{"s":36,"x":800,"y":241},
{"s":37,"x":-800,"y":268},{"s":37,"x":-750,"y":255},{"s":37,"x":-700,"y":232},{"s":37,"x":-650,"y":211},{"s":37,"x":-600,"y":199},{"s":37,"x":-550,"y":195},{"s":37,"x":-500,"y":193},{"s":37,"x":-450,"y":192},{"s":37,"x":-400,"y":192},{"s":37,"x":-350,"y":192},{"s":37,"x":-300,"y":192},{"s":37,"x":-250,"y":195},{"s":37,"x":-200,"y":205},{"s":37,"x":-150,"y":228},{"s":37,"x":-100,"y":258},{"s":37,"x":-50,"y":282},{"s":37,"x":0,"y":272},{"s":37,"x":50,"y":240},{"s":37,"x":100,"y":207},{"s":37,"x":150,"y":196},{"s":37,"x":200,"y":193},{"s":37,"x":250,"y":192},{"s":37,"x":300,"y":192},{"s":37,"x":350,"y":192},{"s":37,"x":400,"y":192},{"s":37,"x":450,"y":192},{"s":37,"x":500,"y":194},{"s":37,"x":550,"y":207},{"s":37,"x":600,"y":231},{"s":37,"x":650,"y":262},{"s":37,"x":700,"y":292},{"s":37,"x":750,"y":295},{"s":37,"x":800,"y":247},
{"s":38,"x":-800,"y":271},{"s":38,"x":-750,"y":260},{"s":38,"x":-700,"y":237},{"s":38,"x":-650,"y":216},{"s":38,"x":-600,"y":204},{"s":38,"x":-550,"y":199},{"s":38,"x":-500,"y":197},{"s":38,"x":-450,"y":196},{"s":38,"x":-400,"y":196},{"s":38,"x":-350,"y":196},{"s":38,"x":-300,"y":196},{"s":38,"x":-250,"y":199},{"s":38,"x":-200,"y":209},{"s":38,"x":-150,"y":232},{"s":38,"x":-100,"y":261},{"s":38,"x":-50,"y":285},{"s":38,"x":0,"y":277},{"s":38,"x":50,"y":246},{"s":38,"x":100,"y":212},{"s":38,"x":150,"y":201},{"s":38,"x":200,"y":197},{"s":38,"x":250,"y":196},{"s":38,"x":300,"y":196},{"s":38,"x":350,"y":196},{"s":38,"x":400,"y":196},{"s":38,"x":450,"y":196},{"s":38,"x":500,"y":198},{"s":38,"x":550,"y":211},{"s":38,"x":600,"y":234},{"s":38,"x":650,"y":264},{"s":38,"x":700,"y":295},{"s":38,"x":750,"y":299},{"s":38,"x":800,"y":253},
{"s":39,"x":-800,"y":275},{"s":39,"x":-750,"y":266},{"s":39,"x":-700,"y":243},{"s":39,"x":-650,"y":221},{"s":39,"x":-600,"y":208},{"s":39,"x":-550,"y":204},{"s":39,"x":-500,"y":201},{"s":39,"x":-450,"y":200},{"s":39,"x":-400,"y":200},{"s":39,"x":-350,"y":200},{"s":39,"x":-300,"y":200},{"s":39,"x":-250,"y":203},{"s":39,"x":-200,"y":213},{"s":39,"x":-150,"y":235},{"s":39,"x":-100,"y":264},{"s":39,"x":-50,"y":288},{"s":39,"x":0,"y":283},{"s":39,"x":50,"y":251},{"s":39,"x":100,"y":218},{"s":39,"x":150,"y":205},{"s":39,"x":200,"y":202},{"s":39,"x":250,"y":200},{"s":39,"x":300,"y":200},{"s":39,"x":350,"y":200},{"s":39,"x":400,"y":200},{"s":39,"x":450,"y":200},{"s":39,"x":500,"y":203},{"s":39,"x":550,"y":215},{"s":39,"x":600,"y":237},{"s":39,"x":650,"y":266},{"s":39,"x":700,"y":297},{"s":39,"x":750,"y":304},{"s":39,"x":800,"y":259},
{"s":40,"x":-800,"y":278},{"s":40,"x":-750,"y":271},{"s":40,"x":-700,"y":248},{"s":40,"x":-650,"y":226},{"s":40,"x":-600,"y":213},{"s":40,"x":-550,"y":208},{"s":40,"x":-500,"y":205},{"s":40,"x":-450,"y":204},{"s":40,"x":-400,"y":204},{"s":40,"x":-350,"y":204},{"s":40,"x":-300,"y":204},{"s":40,"x":-250,"y":207},{"s":40,"x":-200,"y":217},{"s":40,"x":-150,"y":239},{"s":40,"x":-100,"y":267},{"s":40,"x":-50,"y":291},{"s":40,"x":0,"y":288},{"s":40,"x":50,"y":257},{"s":40,"x":100,"y":223},{"s":40,"x":150,"y":210},{"s":40,"x":200,"y":206},{"s":40,"x":250,"y":204},{"s":40,"x":300,"y":204},{"s":40,"x":350,"y":204},{"s":40,"x":400,"y":204},{"s":40,"x":450,"y":204},{"s":40,"x":500,"y":207},{"s":40,"x":550,"y":218},{"s":40,"x":600,"y":240},{"s":40,"x":650,"y":268},{"s":40,"x":700,"y":300},{"s":40,"x":750,"y":308},{"s":40,"x":800,"y":265},
{"s":41,"x":-800,"y":282},{"s":41,"x":-750,"y":276},{"s":41,"x":-700,"y":254},{"s":41,"x":-650,"y":231},{"s":41,"x":-600,"y":217},{"s":41,"x":-550,"y":212},{"s":41,"x":-500,"y":210},{"s":41,"x":-450,"y":208},{"s":41,"x":-400,"y":208},{"s":41,"x":-350,"y":208},{"s":41,"x":-300,"y":208},{"s":41,"x":-250,"y":211},{"s":41,"x":-200,"y":221},{"s":41,"x":-150,"y":242},{"s":41,"x":-100,"y":270},{"s":41,"x":-50,"y":294},{"s":41,"x":0,"y":294},{"s":41,"x":50,"y":262},{"s":41,"x":100,"y":228},{"s":41,"x":150,"y":214},{"s":41,"x":200,"y":210},{"s":41,"x":250,"y":208},{"s":41,"x":300,"y":208},{"s":41,"x":350,"y":208},{"s":41,"x":400,"y":208},{"s":41,"x":450,"y":208},{"s":41,"x":500,"y":211},{"s":41,"x":550,"y":222},{"s":41,"x":600,"y":243},{"s":41,"x":650,"y":270},{"s":41,"x":700,"y":302},{"s":41,"x":750,"y":312},{"s":41,"x":800,"y":271},
{"s":42,"x":-800,"y":285},{"s":42,"x":-750,"y":281},{"s":42,"x":-700,"y":259},{"s":42,"x":-650,"y":235},{"s":42,"x":-600,"y":221},{"s":42,"x":-550,"y":216},{"s":42,"x":-500,"y":214},{"s":42,"x":-450,"y":213},{"s":42,"x":-400,"y":213},{"s":42,"x":-350,"y":213},{"s":42,"x":-300,"y":213},{"s":42,"x":-250,"y":216},{"s":42,"x":-200,"y":225},{"s":42,"x":-150,"y":246},{"s":42,"x":-100,"y":273},{"s":42,"x":-50,"y":298},{"s":42,"x":0,"y":299},{"s":42,"x":50,"y":268},{"s":42,"x":100,"y":234},{"s":42,"x":150,"y":219},{"s":42,"x":200,"y":214},{"s":42,"x":250,"y":213},{"s":42,"x":300,"y":213},{"s":42,"x":350,"y":213},{"s":42,"x":400,"y":213},{"s":42,"x":450,"y":213},{"s":42,"x":500,"y":215},{"s":42,"x":550,"y":226},{"s":42,"x":600,"y":246},{"s":42,"x":650,"y":272},{"s":42,"x":700,"y":305},{"s":42,"x":750,"y":316},{"s":42,"x":800,"y":278},
{"s":43,"x":-800,"y":288},{"s":43,"x":-750,"y":286},{"s":43,"x":-700,"y":264},{"s":43,"x":-650,"y":240},{"s":43,"x":-600,"y":226},{"s":43,"x":-550,"y":220},{"s":43,"x":-500,"y":218},{"s":43,"x":-450,"y":217},{"s":43,"x":-400,"y":217},{"s":43,"x":-350,"y":217},{"s":43,"x":-300,"y":217},{"s":43,"x":-250,"y":220},{"s":43,"x":-200,"y":229},{"s":43,"x":-150,"y":250},{"s":43,"x":-100,"y":276},{"s":43,"x":-50,"y":301},{"s":43,"x":0,"y":304},{"s":43,"x":50,"y":274},{"s":43,"x":100,"y":239},{"s":43,"x":150,"y":224},{"s":43,"x":200,"y":218},{"s":43,"x":250,"y":217},{"s":43,"x":300,"y":217},{"s":43,"x":350,"y":217},{"s":43,"x":400,"y":217},{"s":43,"x":450,"y":217},{"s":43,"x":500,"y":219},{"s":43,"x":550,"y":229},{"s":43,"x":600,"y":249},{"s":43,"x":650,"y":274},{"s":43,"x":700,"y":308},{"s":43,"x":750,"y":320},{"s":43,"x":800,"y":284},
{"s":44,"x":-800,"y":291},{"s":44,"x":-750,"y":292},{"s":44,"x":-700,"y":270},{"s":44,"x":-650,"y":245},{"s":44,"x":-600,"y":230},{"s":44,"x":-550,"y":225},{"s":44,"x":-500,"y":222},{"s":44,"x":-450,"y":221},{"s":44,"x":-400,"y":221},{"s":44,"x":-350,"y":221},{"s":44,"x":-300,"y":221},{"s":44,"x":-250,"y":224},{"s":44,"x":-200,"y":233},{"s":44,"x":-150,"y":253},{"s":44,"x":-100,"y":279},{"s":44,"x":-50,"y":304},{"s":44,"x":0,"y":310},{"s":44,"x":50,"y":279},{"s":44,"x":100,"y":245},{"s":44,"x":150,"y":228},{"s":44,"x":200,"y":223},{"s":44,"x":250,"y":221},{"s":44,"x":300,"y":221},{"s":44,"x":350,"y":221},{"s":44,"x":400,"y":221},{"s":44,"x":450,"y":221},{"s":44,"x":500,"y":224},{"s":44,"x":550,"y":233},{"s":44,"x":600,"y":252},{"s":44,"x":650,"y":276},{"s":44,"x":700,"y":310},{"s":44,"x":750,"y":325},{"s":44,"x":800,"y":290},
{"s":45,"x":-800,"y":295},{"s":45,"x":-750,"y":297},{"s":45,"x":-700,"y":275},{"s":45,"x":-650,"y":250},{"s":45,"x":-600,"y":235},{"s":45,"x":-550,"y":229},{"s":45,"x":-500,"y":226},{"s":45,"x":-450,"y":225},{"s":45,"x":-400,"y":225},{"s":45,"x":-350,"y":225},{"s":45,"x":-300,"y":225},{"s":45,"x":-250,"y":228},{"s":45,"x":-200,"y":237},{"s":45,"x":-150,"y":257},{"s":45,"x":-100,"y":282},{"s":45,"x":-50,"y":307},{"s":45,"x":0,"y":315},{"s":45,"x":50,"y":285},{"s":45,"x":100,"y":250},{"s":45,"x":150,"y":233},{"s":45,"x":200,"y":227},{"s":45,"x":250,"y":225},{"s":45,"x":300,"y":225},{"s":45,"x":350,"y":225},{"s":45,"x":400,"y":225},{"s":45,"x":450,"y":225},{"s":45,"x":500,"y":228},{"s":45,"x":550,"y":237},{"s":45,"x":600,"y":255},{"s":45,"x":650,"y":278},{"s":45,"x":700,"y":313},{"s":45,"x":750,"y":329},{"s":45,"x":800,"y":296}
]},
"layer":[
{"mark":{"type":"line","interpolate":"monotone","strokeWidth":1},
"encoding":{
"x":{"field":"x","type":"quantitative","scale":{"domain":[-1000,1000],"nice":false},
"axis":{"orient":"bottom","values":[-1000,-500,0,500,1000],"tickSize":-4,"labelPadding":13,"labelFontSize":14,"labelFlush":false,"labelOverlap":false,
"labelExpr":"datum.value < 0 ? '-' + (-datum.value) : '' + datum.value",
"title":"V","titleFontSize":16,"titleAlign":"left","titleX":135,"titleY":40,"titleBaseline":"alphabetic"}},
"y":{"field":"y","type":"quantitative","scale":{"domain":[0,350],"nice":false},
"axis":{"orient":"left","values":[0,50,100,150,200,250,300,350],"tickSize":-4,"labelPadding":10,"labelFontSize":14,"labelOverlap":false,"labelFlush":false,
"title":"V","titleFontSize":15,"titleAngle":270,"titleAlign":"left","titleX":-64,"titleY":173,"titleBaseline":"alphabetic"}},
"color":{"field":"s","type":"nominal","scale":{"range":["#8676b8","#98d196","#86cbe2","#f2c084","#a0a0a0"]},"legend":null}
}},
{"transform":[{"filter":"datum.s == 0"}],
"mark":{"type":"line","interpolate":"monotone","strokeWidth":3,"color":"#000000"},
"encoding":{"x":{"field":"x","type":"quantitative","scale":{"domain":[-1000,1000],"nice":false},"axis":null},"y":{"field":"y","type":"quantitative","scale":{"domain":[0,350],"nice":false},"axis":null}}},
{"transform":[{"filter":"datum.s == 37"}],
"mark":{"type":"line","interpolate":"monotone","strokeWidth":2.6,"color":"#d7191c","strokeDash":[8,3,2,3]},
"encoding":{"x":{"field":"x","type":"quantitative","scale":{"domain":[-1000,1000],"nice":false},"axis":null},"y":{"field":"y","type":"quantitative","scale":{"domain":[0,350],"nice":false},"axis":null}}},
{"data":{"values":[{"k":1}]},
"mark":{"type":"rule","strokeWidth":2,"color":"#000000"},
"encoding":{"x":{"datum":-1296,"type":"quantitative","scale":{"domain":[-1000,1000],"nice":false},"axis":null},"y":{"datum":95,"type":"quantitative","scale":{"domain":[0,350],"nice":false},"axis":null},"y2":{"datum":279}}},
{"data":{"values":[{"k":1}]},
"mark":{"type":"point","shape":"triangle-up","filled":true,"size":70,"color":"#000000","opacity":1},
"encoding":{"x":{"datum":-1296,"type":"quantitative","scale":{"domain":[-1000,1000],"nice":false},"axis":null},"y":{"datum":283,"type":"quantitative","scale":{"domain":[0,350],"nice":false},"axis":null}}},
{"data":{"values":[{"k":1}]},
"mark":{"type":"text","text":"(mV)","align":"left","baseline":"alphabetic","fontSize":16,"font":"Liberation Sans","fontWeight":"normal","color":"#222"},
"encoding":{"x":{"datum":-35,"type":"quantitative","scale":{"domain":[-1000,1000],"nice":false},"axis":null},"y":{"datum":-54,"type":"quantitative","scale":{"domain":[0,350],"nice":false},"axis":null}}},
{"data":{"values":[{"k":1}]},
"mark":{"type":"text","text":"(Arb. U.)","align":"left","baseline":"alphabetic","angle":270,"fontSize":15,"font":"Liberation Sans","fontWeight":"normal","color":"#222"},
"encoding":{"x":{"datum":-1390,"type":"quantitative","scale":{"domain":[-1000,1000],"nice":false},"axis":null},"y":{"datum":159,"type":"quantitative","scale":{"domain":[0,350],"nice":false},"axis":null}}},
{"data":{"values":[{"k":1}]},
"mark":{"type":"point","opacity":0},
"encoding":{
"x":{"datum":0,"type":"quantitative","scale":{"domain":[-1000,1000],"nice":false},
"axis":{"orient":"top","values":[-1000,-500,0,500,1000],"tickSize":-4,"labels":false,"title":"g","titleFontSize":12,"titleAlign":"center","titleX":149,"titleY":309,"titleBaseline":"alphabetic"}},
"y":{"datum":0,"type":"quantitative","scale":{"domain":[0,350],"nice":false},
"axis":{"orient":"right","values":[0,50,100,150,200,250,300,350],"tickSize":-4,"labels":false,"title":"c","titleFontSize":11,"titleAngle":270,"titleAlign":"center","titleX":-383,"titleY":151,"titleBaseline":"alphabetic"}}
}}
],
"resolve":{"axis":{"x":"independent","y":"independent"}}
}
